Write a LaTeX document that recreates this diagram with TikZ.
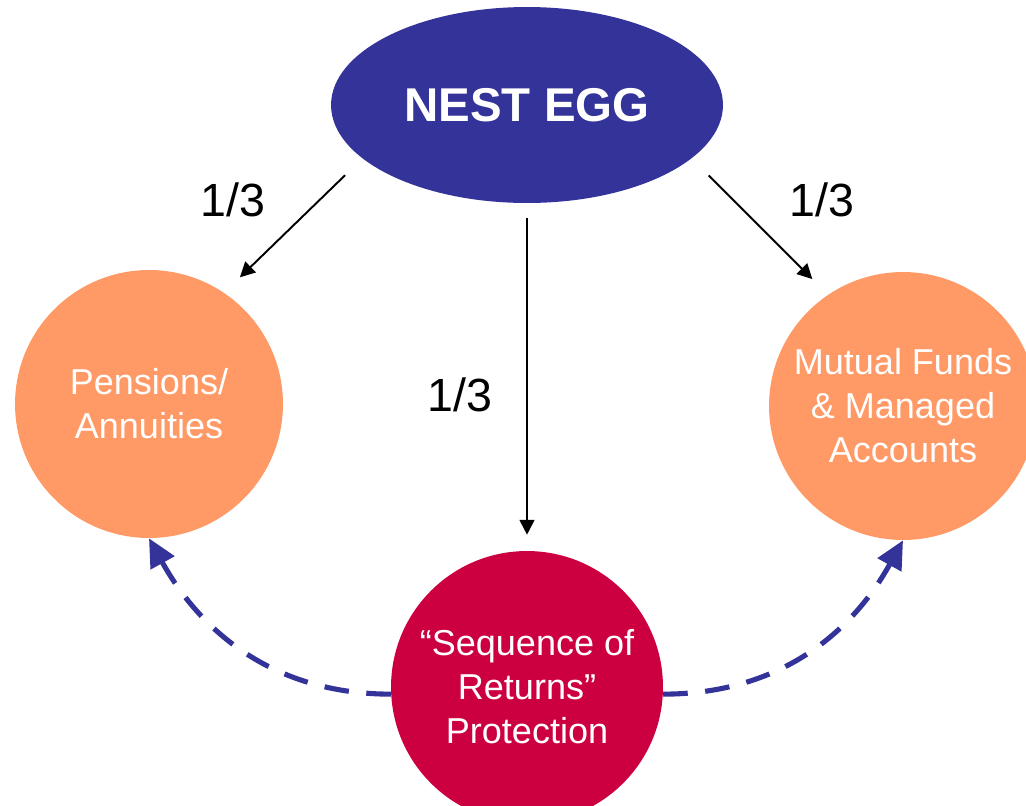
\documentclass[tikz,border=0pt]{standalone}
\usepackage{fontspec}
\setmainfont{Liberation Sans}
\usetikzlibrary{arrows.meta,shapes.geometric}
\definecolor{navy}{HTML}{333399}
\definecolor{peach}{HTML}{FF9966}
\definecolor{crimson}{HTML}{CC0040}
\tikzset{>=Latex,
  every node/.style={font=\fontsize{20.5}{25}\selectfont},
  hub/.style={ellipse,fill=navy,minimum width=7.84cm,minimum height=3.92cm,
    text=white,font=\fontsize{27}{32}\selectfont\bfseries},
  pot/.style={circle,fill=peach,minimum size=5.36cm,text=white,align=center},
  guard/.style={circle,fill=crimson,minimum size=5.44cm,text=white,align=center},
  share/.style={-{Triangle[length=8.5pt,width=8.5pt]},line width=1.1pt},
  part/.style={font=\fontsize{26.5}{30}\selectfont},
  backflow/.style={-{Triangle[length=16pt,width=15pt]},draw=navy,
    line width=2.9pt,dash pattern=on 14pt off 10pt}}

\begin{document}
\begin{tikzpicture}[x=.02cm,y=-.02cm]
\useasboundingbox (0,0) rectangle (1026,805);
\node[hub] (egg) at (527,105) {NEST EGG};
\node[pot] (pen) at (149,404) {Pensions/\\Annuities};
\node[pot] (mut) at (903,406) {Mutual Funds\\\& Managed\\Accounts};
\node[guard] (seq) at (527,687) {“Sequence of\\Returns”\\Protection};
% the three thirds
\draw[share,shorten <=.48cm,shorten >=.44cm] (egg.198) -- (pen.56);
\draw[share,shorten <=.48cm,shorten >=.44cm] (egg.342) -- (mut.124);
\draw[share,shorten <=.3cm,shorten >=.32cm] (egg.south) -- (seq.north);
\node[part] (l) at (233,200) {1/3};
\node[part] (r) at (822,200) {1/3};
\node[part] (m) at (460,395) {1/3};
% protection feeding back
\draw[backflow] (seq.183) to[out=180,in=-61] (pen.south);
\draw[backflow] (seq.-3) to[out=0,in=-119] (mut.south);
\end{tikzpicture}
\end{document}
